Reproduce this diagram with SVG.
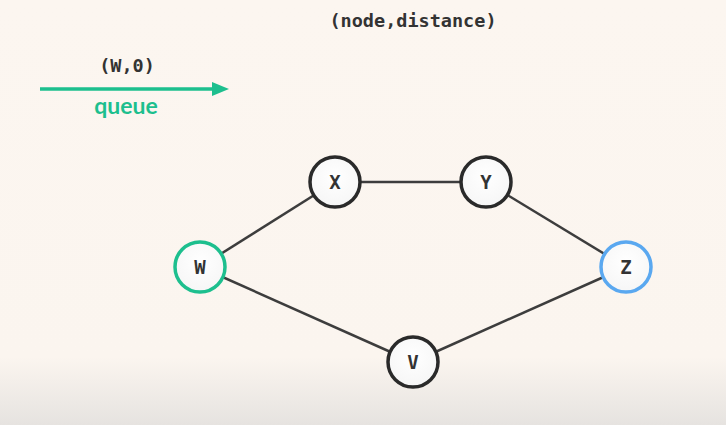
<svg xmlns="http://www.w3.org/2000/svg" width="726" height="425" viewBox="0 0 726 425">
<defs>
<linearGradient id="bg" x1="0" y1="0" x2="0" y2="1">
<stop offset="0" stop-color="#fcf6f0"/>
<stop offset="0.84" stop-color="#fbf5ef"/>
<stop offset="1" stop-color="#e6e3e0"/>
</linearGradient>
<radialGradient id="nf" cx="0.5" cy="0.4" r="0.6">
<stop offset="0" stop-color="#ffffff"/>
<stop offset="1" stop-color="#f6f6f6"/>
</radialGradient>
<style>
.mono{font-family:"DejaVu Sans Mono","Liberation Mono",monospace;font-weight:bold;fill:#333333;}
.node{fill:url(#nf);stroke:#2a2a2a;stroke-width:3.5;}
.lbl{font-family:"DejaVu Sans Mono","Liberation Mono",monospace;font-weight:bold;font-size:19px;fill:#333;text-anchor:middle;}
.edge{stroke:#3d3d3d;stroke-width:2.5;fill:none;}
</style>
</defs>
<rect width="726" height="425" fill="url(#bg)"/>
<text class="mono" x="413" y="27" font-size="18.5" text-anchor="middle">(node,distance)</text>
<text class="mono" x="127" y="72" font-size="18.5" text-anchor="middle">(W,0)</text>
<line x1="40" y1="89" x2="214" y2="89" stroke="#1dbf8e" stroke-width="3.5"/>
<path d="M212,82 L229,89 L212,96 Z" fill="#1dbf8e"/>
<text x="126" y="114" font-family="Lato,'Open Sans',sans-serif" font-weight="bold" font-size="23" fill="#1dbf8e" text-anchor="middle">queue</text>
<g id="connectors">
<line class="edge" x1="200" y1="267" x2="335" y2="182"/>
<line class="edge" x1="335" y1="182" x2="486" y2="182"/>
<line class="edge" x1="486" y1="182" x2="626" y2="267"/>
<line class="edge" x1="200" y1="267" x2="413" y2="362"/>
<line class="edge" x1="413" y1="362" x2="626" y2="267"/>
</g>
<g id="node-W"><circle class="node" cx="200" cy="267" r="25" style="stroke:#1dbf8e"/><text class="lbl" x="200" y="274">W</text></g>
<g id="node-X"><circle class="node" cx="335" cy="182" r="25"/><text class="lbl" x="335" y="189">X</text></g>
<g id="node-Y"><circle class="node" cx="486" cy="182" r="25"/><text class="lbl" x="486" y="189">Y</text></g>
<g id="node-Z"><circle class="node" cx="626" cy="267" r="25" style="stroke:#5aa8f0"/><text class="lbl" x="626" y="274">Z</text></g>
<g id="node-V"><circle class="node" cx="413" cy="362" r="25"/><text class="lbl" x="413" y="369">V</text></g>
</svg>
